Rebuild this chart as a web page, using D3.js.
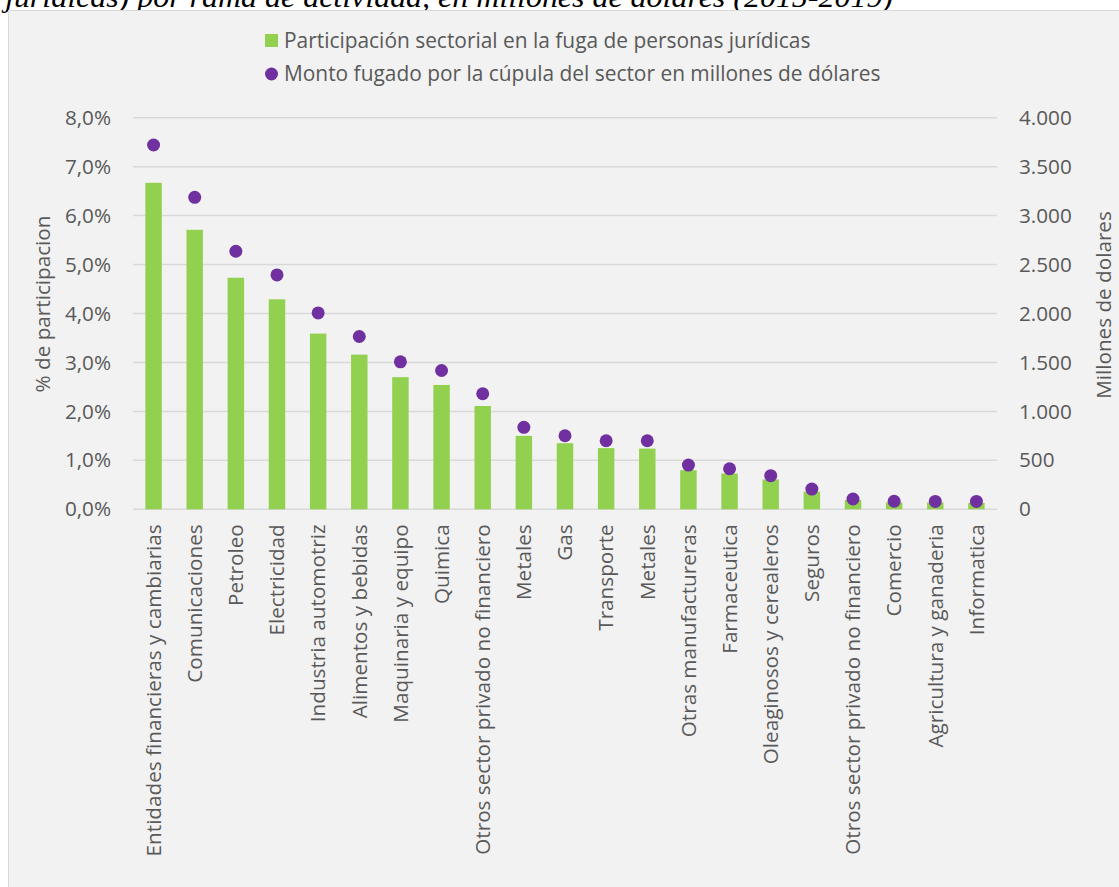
<!DOCTYPE html>
<html>
<head>
<meta charset="utf-8">
<script src="https://d3js.org/d3.v7.min.js"></script>
<style>
  body { margin: 0; background: #fff; }
  svg { display: block; }
  .axis text { font-family: "Open Sans", sans-serif; fill: #595959; }
</style>
</head>
<body>
<div id="chart"></div>
<script>
// sectors, left-axis share and right-axis amount
var sectores = ["Entidades financieras y cambiarias", "Comunicaciones", "Petroleo", "Electricidad",
  "Industria automotriz", "Alimentos y bebidas", "Maquinaria y equipo", "Quimica",
  "Otros sector privado no financiero", "Metales", "Gas", "Transporte", "Metales",
  "Otras manufactureras", "Farmaceutica", "Oleaginosos y cerealeros", "Seguros",
  "Otros sector privado no financiero", "Comercio", "Agricultura y ganaderia", "Informatica"];
var participacion = [0.0667, 0.0571, 0.0473, 0.0429, 0.0359, 0.0316, 0.0270, 0.0254, 0.0211, 0.0150,
  0.0135, 0.0125, 0.0124, 0.0080, 0.0073, 0.0061, 0.0036, 0.0019, 0.0014, 0.0014, 0.0013];
var montoFugado = [3721, 3187, 2636, 2394, 2006, 1765, 1506, 1418, 1180, 837,
  751, 700, 700, 452, 414, 343, 207, 105, 82, 80, 80];
var ticksPct = [0, 0.01, 0.02, 0.03, 0.04, 0.05, 0.06, 0.07, 0.08];
var ticksMonto = [0, 500, 1000, 1500, 2000, 2500, 3000, 3500, 4000];
var legendLabels = ["Participación sectorial en la fuga de personas jurídicas",
  "Monto fugado por la cúpula del sector en millones de dólares"];

var W = 1119, H = 887;
var FS = 20.7;
var margin = { top: 117.7, right: 122, bottom: 377.7, left: 133 };
var width = W - margin.left - margin.right,
    height = H - margin.top - margin.bottom;

var loc = d3.formatLocale({ decimal: ",", thousands: ".", grouping: [3], currency: ["$", ""] });

var svg = d3.select("#chart").append("svg")
  .attr("width", W)
  .attr("height", H);

// title line, cropped at the top
svg.append("text")
  .attr("x", 5)
  .attr("y", 7)
  .attr("font-family", "Liberation Serif, serif")
  .attr("font-style", "italic")
  .attr("font-size", 30)
  .attr("textLength", 888)
  .attr("lengthAdjust", "spacingAndGlyphs")
  .attr("fill", "#000")
  .text("jurídicas) por rama de actividad, en millones de dólares (2015-2019)");

// chart frame
svg.append("rect")
  .attr("x", 8.5).attr("y", 10.5)
  .attr("width", W).attr("height", H)
  .attr("fill", "#F2F2F2")
  .attr("stroke", "#D9D9D9");

var g = svg.append("g")
  .attr("transform", "translate(" + margin.left + "," + margin.top + ")");

var x = d3.scaleBand()
  .domain(d3.range(sectores.length))
  .range([0, width])
  .paddingInner(0.6)
  .paddingOuter(0.3);

var y = d3.scaleLinear().domain([0, 0.08]).range([height, 0]);
var y2 = d3.scaleLinear().domain([0, 4000]).range([height, 0]);

// gridlines
g.append("g")
  .selectAll("line")
  .data(ticksPct)
  .enter().append("line")
  .attr("x1", 0).attr("x2", width)
  .attr("y1", function (d) { return y(d); })
  .attr("y2", function (d) { return y(d); })
  .attr("stroke", "#D9D9D9")
  .attr("stroke-width", 1.5);

// bars
g.selectAll(".bar")
  .data(participacion)
  .enter().append("rect")
  .attr("class", "bar")
  .attr("x", function (d, i) { return x(i); })
  .attr("width", x.bandwidth())
  .attr("y", function (d) { return y(d); })
  .attr("height", function (d) { return height - y(d); })
  .attr("fill", "#92D050");

// dots
g.selectAll(".dot")
  .data(montoFugado)
  .enter().append("circle")
  .attr("class", "dot")
  .attr("cx", function (d, i) { return x(i) + x.bandwidth() / 2; })
  .attr("cy", function (d) { return y2(d); })
  .attr("r", 6.5)
  .attr("fill", "#7030A0");

// left axis
var yAxis = d3.axisLeft(y).tickValues(ticksPct).tickFormat(loc.format(".1%")).tickSize(0).tickPadding(22);
g.append("g").attr("class", "axis").call(yAxis)
  .call(function (a) { a.select(".domain").remove(); })
  .selectAll("text").attr("font-size", FS);

// right axis
var y2Axis = d3.axisRight(y2).tickValues(ticksMonto).tickFormat(loc.format(",")).tickSize(0).tickPadding(22);
g.append("g").attr("class", "axis")
  .attr("transform", "translate(" + width + ",0)")
  .call(y2Axis)
  .call(function (a) { a.select(".domain").remove(); })
  .selectAll("text").attr("font-size", FS);

// category axis, rotated labels
var xAxis = d3.axisBottom(x).tickFormat(function (i) { return sectores[i]; }).tickSize(0);
g.append("g").attr("class", "axis")
  .attr("transform", "translate(0," + height + ")")
  .call(xAxis)
  .call(function (a) { a.select(".domain").remove(); })
  .selectAll("text")
  .attr("font-size", FS)
  .attr("transform", "rotate(-90)")
  .attr("text-anchor", "end")
  .attr("x", -15)
  .attr("y", 0)
  .attr("dy", "0.35em");

// axis titles
svg.append("text")
  .attr("transform", "translate(43,304) rotate(-90)")
  .attr("text-anchor", "middle")
  .attr("dy", "0.35em")
  .attr("font-family", "Open Sans, sans-serif")
  .attr("font-size", FS)
  .attr("fill", "#595959")
  .text("% de participacion");

svg.append("text")
  .attr("transform", "translate(1104,305) rotate(-90)")
  .attr("text-anchor", "middle")
  .attr("dy", "0.35em")
  .attr("font-family", "Open Sans, sans-serif")
  .attr("font-size", FS)
  .attr("fill", "#595959")
  .text("Millones de dolares");

// legend
var legend = svg.append("g").attr("transform", "translate(265,0)");
legend.append("rect")
  .attr("x", 0).attr("y", 34)
  .attr("width", 13).attr("height", 13)
  .attr("fill", "#92D050");
legend.append("circle")
  .attr("cx", 6.5).attr("cy", 74)
  .attr("r", 6.5)
  .attr("fill", "#7030A0");
legend.selectAll(".legtext")
  .data(legendLabels)
  .enter().append("text")
  .attr("class", "legtext")
  .attr("x", 19)
  .attr("y", function (d, i) { return 41 + i * 33; })
  .attr("dy", "0.35em")
  .attr("font-family", "Open Sans, sans-serif")
  .attr("font-size", 20.9)
  .attr("fill", "#595959")
  .text(function (d) { return d; });
</script>
</body>
</html>
